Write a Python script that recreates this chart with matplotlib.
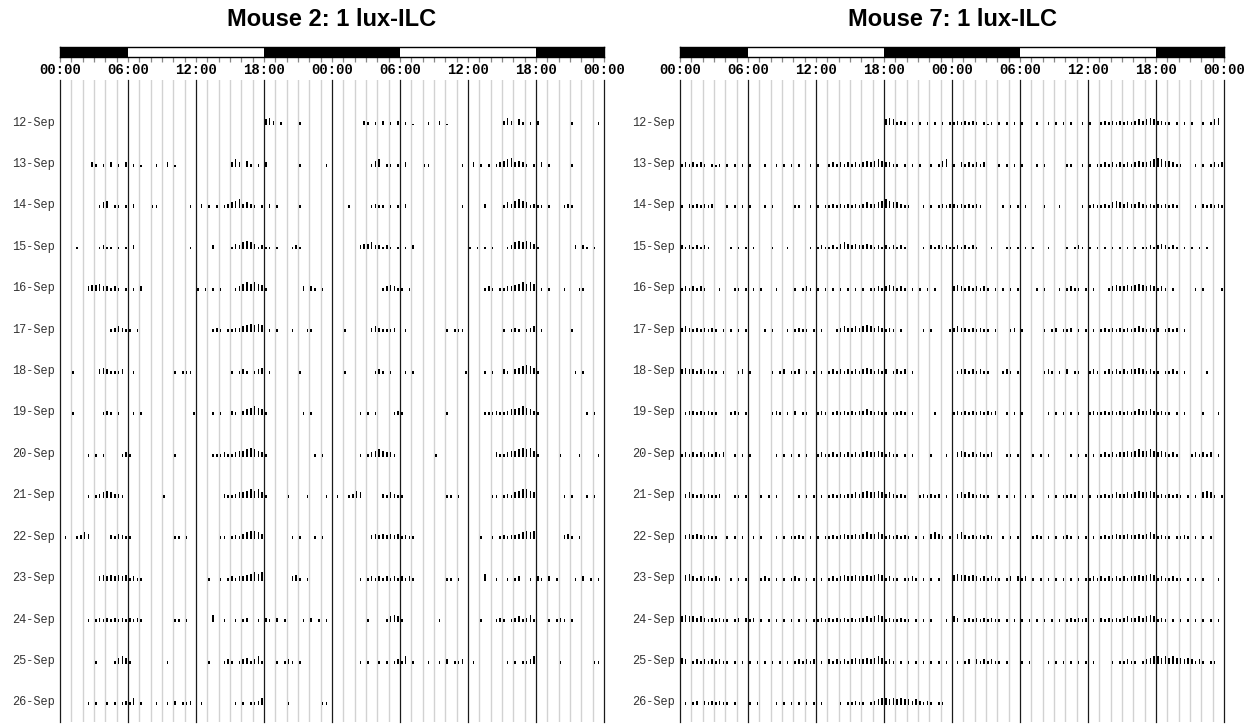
import numpy as np
import matplotlib
matplotlib.use("Agg")
import matplotlib.pyplot as plt

# rows of the double-plotted actogram (each row = that day + next day)
dates = ["12-Sep", "13-Sep", "14-Sep", "15-Sep", "16-Sep", "17-Sep", "18-Sep", "19-Sep",
         "20-Sep", "21-Sep", "22-Sep", "23-Sep", "24-Sep", "25-Sep", "26-Sep"]

# activity per day, 20-min bins (3 bins per hour, hours separated by spaces), level 0-9
m2_days = [
    "000 000 000 000 000 000 000 000 000 000 000 000 000 000 000 000 000 000 453 020 000 200 000 000",
    "000 000 003 202 030 203 020 100 020 030 100 000 000 000 000 353 042 020 300 000 000 200 000 020",
    "000 000 000 024 502 202 030 000 220 000 000 020 030 202 023 456 343 202 030 200 000 200 000 000",
    "000 020 000 023 220 202 030 000 000 000 000 020 000 030 000 243 565 423 220 200 023 200 000 000",
    "000 000 034 453 323 202 020 300 000 000 000 000 202 020 200 023 565 654 200 000 000 030 320 200",
    "000 000 000 000 023 432 202 000 000 000 000 000 000 023 202 233 456 565 020 200 020 002 200 000",
    "000 200 000 034 322 230 020 000 000 000 202 220 000 000 000 202 320 234 020 000 000 200 000 000",
    "000 200 000 002 320 200 020 200 000 000 000 002 000 020 200 320 345 654 200 000 000 020 200 000",
    "000 000 020 202 000 023 200 000 000 000 200 000 000 022 232 234 456 543 200 000 000 000 020 200",
    "000 000 020 234 543 320 000 000 000 200 000 000 000 000 032 234 456 564 200 000 200 002 000 020",
    "020 023 540 000 032 432 200 000 000 000 220 200 000 000 220 232 456 654 000 000 020 200 020 200",
    "000 000 000 034 343 434 232 200 000 000 000 000 000 200 202 323 345 656 000 000 034 202 000 000",
    "000 000 020 232 323 232 323 200 000 000 220 200 000 050 020 020 230 020 320 302 000 020 302 020",
    "000 000 000 200 002 454 200 000 000 020 000 000 000 200 023 202 342 352 000 202 320 200 000 000",
    "000 000 020 200 202 023 250 200 020 020 302 230 020 000 000 020 202 235 000 000 200 000 000 220",
]

m7_days = [
    "000 000 000 000 000 000 000 000 000 000 000 000 000 000 000 000 000 000 454 232 020 202 020 202",
    "232 323 202 120 202 020 200 020 020 202 020 020 200 232 323 232 343 454 332 202 020 200 202 450",
    "203 232 323 000 202 020 200 020 200 000 220 020 202 232 323 232 343 345 654 432 200 020 202 323",
    "323 232 320 000 020 202 020 000 200 020 000 020 232 232 454 343 343 232 323 232 000 020 323 232",
    "232 323 200 020 002 202 020 200 020 000 202 320 202 020 202 020 202 232 343 232 020 202 020 000",
    "343 232 323 202 020 202 000 020 200 020 232 202 020 002 343 343 454 343 232 020 000 020 200 002",
    "343 323 232 202 000 230 200 000 202 302 230 202 020 232 323 232 343 232 302 323 020 000 000 000",
    "023 323 232 200 023 202 000 000 232 020 302 200 232 023 232 323 343 232 202 232 020 000 020 000",
    "232 323 232 323 002 020 200 000 020 202 020 200 232 232 323 232 343 343 232 202 020 000 200 020",
    "034 323 232 230 002 202 000 202 020 000 020 202 020 232 323 343 454 454 343 232 000 232 323 020",
    "034 343 232 200 202 020 020 200 020 202 232 020 202 232 343 343 454 454 232 323 202 020 454 202",
    "045 323 232 320 020 202 000 232 020 202 320 202 020 232 343 343 343 454 232 202 232 020 202 000",
    "454 434 323 232 202 303 230 202 020 202 020 202 232 323 232 323 343 454 232 232 202 020 200 020",
    "430 232 323 232 202 020 202 020 202 020 232 323 020 323 232 343 343 454 232 020 202 020 202 020",
    "020 230 323 232 202 000 202 000 020 202 020 202 020 000 202 232 202 345 545 454 434 323 202 200",
]

titles = ["Mouse 2: 1 lux-ILC", "Mouse 7: 1 lux-ILC"]
dark_periods = [(0, 6), (18, 30), (42, 48)]
hour_labels = ["00:00", "06:00", "12:00", "18:00", "00:00", "06:00", "12:00", "18:00", "00:00"]

W, H = 1247, 727
fig = plt.figure(figsize=(W / 100, H / 100), dpi=100)

mono = ["Liberation Mono", "DejaVu Sans Mono"]
bin_h = 1 / 3.0
lvl = 0.035

for x0, title, days in zip([60, 680], titles, [m2_days, m7_days]):
    acts = [np.array([int(c) for c in d.replace(" ", "")]) for d in days]
    t = (np.arange(72) + 0.5) * bin_h

    ax = fig.add_axes([x0 / W, 1 - 722 / H, 544 / W, (722 - 80) / H])
    ax.set_xlim(0, 48)
    ax.set_ylim(14.51, -0.99)
    for h in range(49):
        if h % 6 == 0:
            ax.axvline(h, color="#1a1a1a", lw=0.9, zorder=1, clip_on=False)
        else:
            ax.axvline(h, color="#d2d2d2", lw=1.0, zorder=0)

    for i in range(len(dates)):
        for half in (0, 1):
            j = i + half
            if j >= len(acts):
                continue
            a = acts[j]
            m = a > 0
            ax.bar(t[m] + 24 * half, -a[m] * lvl, bottom=i + 0.1, width=0.13,
                   color="black", linewidth=0, zorder=2)

    ax.set_xticks([])
    ax.set_yticks(range(len(dates)), dates)
    ax.tick_params(axis="y", length=0, pad=4, labelsize=8.6, labelcolor="#333333")
    for lab in ax.get_yticklabels():
        lab.set_family(mono)
    for s in ax.spines.values():
        s.set_visible(False)

    # light/dark bar
    lx = fig.add_axes([x0 / W, 1 - 57 / H, 544 / W, 10 / H])
    lx.set_xlim(0, 48)
    lx.set_ylim(0, 1)
    for a0, a1 in dark_periods:
        lx.axvspan(a0, a1, color="black", lw=0)
    lx.set_yticks([])
    lx.set_xticks(range(0, 49, 6), hour_labels)
    lx.set_xticks(range(49), minor=True)
    lx.tick_params(axis="x", which="both", length=3.5, width=0.9, color="#888888", pad=0.5)
    for lab in lx.get_xticklabels():
        lab.set_family(mono)
        lab.set_fontweight("bold")
        lab.set_fontsize(10)
    for s in lx.spines.values():
        s.set_linewidth(1.0)

    fig.text((x0 + 272) / W, 1 - 19 / H, title, ha="center", va="center",
             fontsize=17, fontweight="bold", family="Liberation Sans")

fig.savefig("out.png", dpi=100)
